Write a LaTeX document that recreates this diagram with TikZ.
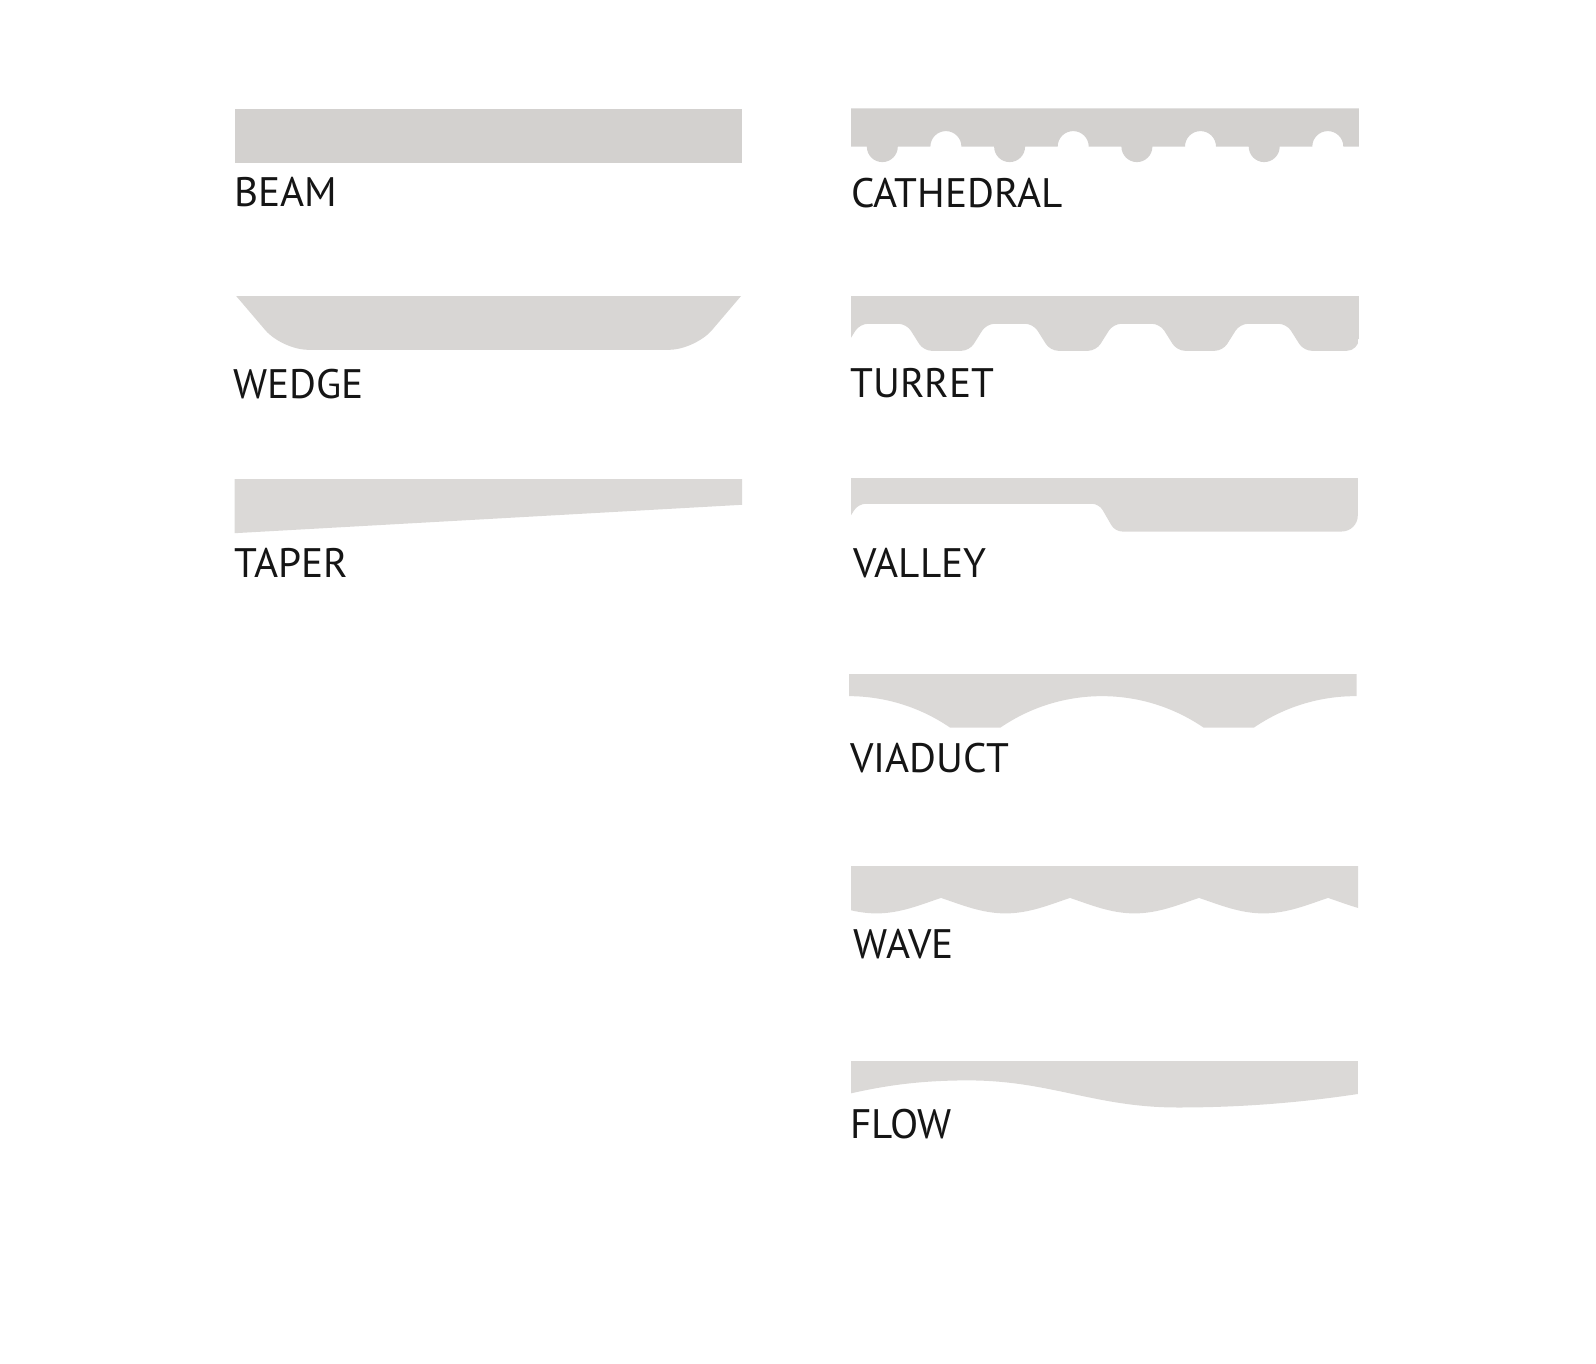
\documentclass[tikz,border=0pt]{standalone}
\usepackage{fontspec}
\setmainfont{PT Sans}
\definecolor{panelA}{HTML}{D3D1CF}
\definecolor{panelB}{HTML}{D8D6D4}
\definecolor{panelC}{HTML}{DBD9D7}
\definecolor{labelc}{HTML}{151515}
\tikzset{
  lbl/.style={anchor=base west, inner sep=0pt, text=labelc, font=\fontsize{20.6}{24}\selectfont},
}
\begin{document}
\begin{tikzpicture}[x=0.5pt,y=-0.5pt]
\useasboundingbox (0,0) rectangle (1596,1364);
% BEAM
\fill[panelA] (234.5,109.1) rectangle (742.1,163.5);
% WEDGE
\begin{scope}
\clip (0,296.8) rectangle (1596,400);
\fill[panelB, rounded corners=13pt] (202.9,257) -- (282,349.8) -- (695.2,349.8) -- (774.3,257) -- cycle;
\end{scope}
% TAPER
\fill[panelC] (234.5,479.1) -- (742.1,479.1) -- (742.1,504.8) -- (234.5,533.2) -- cycle;
% CATHEDRAL
\fill[panelA] (851.2,108.5) -- (851.2,146.6) -- (866.8,146.6)
  arc[start angle=180, end angle=0, radius=15.5] -- (930.4,146.6)
  arc[start angle=180, end angle=360, radius=15.5] -- (994.1,146.6)
  arc[start angle=180, end angle=0, radius=15.5] -- (1057.7,146.6)
  arc[start angle=180, end angle=360, radius=15.5] -- (1121.4,146.6)
  arc[start angle=180, end angle=0, radius=15.5] -- (1185,146.6)
  arc[start angle=180, end angle=360, radius=15.5] -- (1248.7,146.6)
  arc[start angle=180, end angle=0, radius=15.5] -- (1312.3,146.6)
  arc[start angle=180, end angle=360, radius=15.5] -- (1358.8,146.6)
  -- (1358.8,108.5) -- cycle;
% TURRET
\begin{scope}
\clip (851.2,296.8) rectangle (1358.8,400);
\clip[rounded corners=6pt] (700,200) rectangle (1358.8,350.8);
\fill[panelB, rounded corners=4pt] (780,270) -- (780,350.8) -- (842.8,350.8) -- (859.8,323.8)
  -- (906.5,323.8) -- (923.5,350.8) -- (969.5,350.8) -- (986.5,323.8)
  -- (1033.2,323.8) -- (1050.2,350.8) -- (1096.2,350.8) -- (1113.2,323.8)
  -- (1159.9,323.8) -- (1176.9,350.8) -- (1222.9,350.8) -- (1239.9,323.8)
  -- (1286.6,323.8) -- (1303.6,350.8) -- (1420,350.8) -- (1420,270) -- cycle;
\end{scope}
% VALLEY
\begin{scope}
\clip (851.2,478.5) rectangle (1357.8,600);
\clip[rounded corners=8pt] (700,400) rectangle (1357.8,531.5);
\fill[panelC, rounded corners=3.5pt] (780,450) -- (1420,450) -- (1420,531.5) -- (1115,531.5)
  -- (1099,503.8) -- (858.5,503.8) -- (840.5,531) -- (780,531) -- cycle;
\end{scope}
% VIADUCT
\begin{scope}
\clip (849.1,674.1) rectangle (1356.5,760);
\fill[panelC] (747.1,650) -- (747.1,727.5)
  .. controls (808.2,685.7) and (888.8,685.7) .. (949.9,727.5) -- (1000.6,727.5)
  .. controls (1061.7,685.7) and (1142.3,685.7) .. (1203.4,727.5) -- (1254.1,727.5)
  .. controls (1315.2,685.7) and (1395.8,685.7) .. (1456.9,727.5) -- (1456.9,650) -- cycle;
\end{scope}
% WAVE
\begin{scope}
\clip (851.2,866.1) rectangle (1358,940);
\fill[panelC] (790,840) -- (790,897.9) -- (812,897.9)
  \foreach \p in {812,941,1070,1199,1328} {
    .. controls (\p+21,905) and (\p+41,913.4) .. (\p+64.5,913.4)
    .. controls (\p+88,913.4) and (\p+108,905) .. (\p+129,897.9)
  } -- (1470,897.9) -- (1470,840) -- cycle;
\end{scope}
% FLOW
\fill[panelC] (851.2,1061.2) -- (851.2,1093.3)
  .. controls (890,1084.5) and (925,1080.4) .. (968,1080.4)
  .. controls (1050,1080.4) and (1095,1107.5) .. (1178,1107.5)
  .. controls (1245,1107.5) and (1305,1102) .. (1357.8,1094)
  -- (1357.8,1061.2) -- cycle;
% labels
\node[lbl] (beam) at (234,206.7) {BEAM};
\node[lbl] (wedge) at (233,398.3) {WEDGE};
\node[lbl] (taper) at (234,577.3) {TAPER};
\node[lbl] (cathedral) at (850.7,207.3) {CATHEDRAL};
\node[lbl] (turret) at (850,397.3) {TURRET};
\node[lbl] (valley) at (852.7,577.3) {VALLEY};
\node[lbl] (viaduct) at (850,772.3) {VIADUCT};
\node[lbl] (wave) at (852.7,958.3) {WAVE};
\node[lbl] (flow) at (850,1138.3) {FLOW};
\end{tikzpicture}
\end{document}
